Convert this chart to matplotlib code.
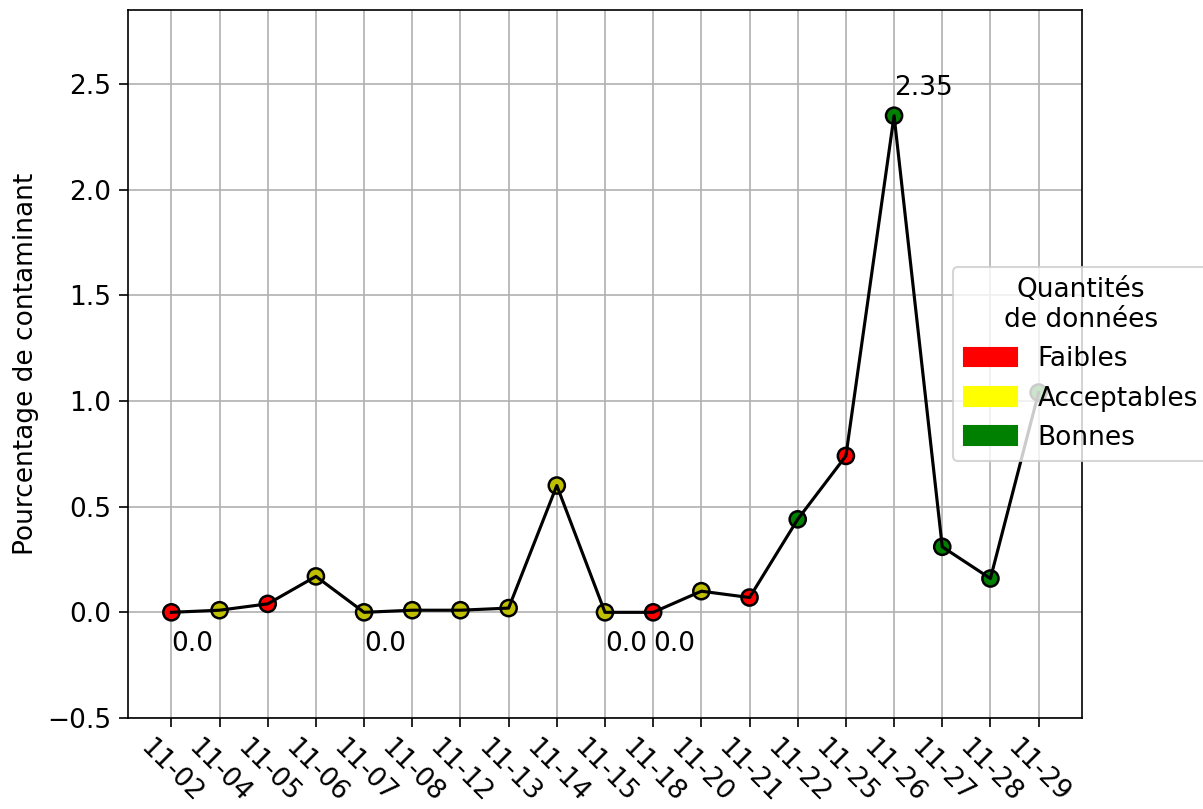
import matplotlib
matplotlib.use('Agg')
import matplotlib.pyplot as plt
import matplotlib.patches as mpatches

# Donnees
dates = ['11-02', '11-04', '11-05', '11-06', '11-07', '11-08', '11-12', '11-13',
         '11-14', '11-15', '11-18', '11-20', '11-21', '11-22', '11-25', '11-26',
         '11-27', '11-28', '11-29']
pourcentages = [0.0, 0.01, 0.04, 0.17, 0.0, 0.01, 0.01, 0.02,
                0.60, 0.0, 0.0, 0.10, 0.07, 0.44, 0.74, 2.35,
                0.31, 0.16, 1.04]
# qualite des donnees: r = faibles, y = acceptables, g = bonnes
qualite = ['r', 'y', 'r', 'y', 'y', 'y', 'y', 'y',
           'y', 'y', 'r', 'y', 'r', 'g', 'r', 'g',
           'g', 'g', 'g']

legende_labels = ['Faibles', 'Acceptables', 'Bonnes']
legende_couleurs = ['red', 'yellow', 'green']

FS = 12.7

fig = plt.figure(figsize=(1203 / 150, 809 / 150), dpi=150)
ax = fig.add_axes([0.1064, 0.1125, 0.793, 0.8751])

x = list(range(len(dates)))
ax.scatter(x, pourcentages, c=qualite, edgecolors='black', s=60, linewidths=1.2, zorder=2)
ax.plot(x, pourcentages, color='black', linewidth=1.5, zorder=3)

ymax = max(pourcentages)
for i, v in enumerate(pourcentages):
    if v == 0:
        ax.text(i, v - 0.185, str(v), fontsize=FS)
    elif v == ymax:
        ax.text(i, v + 0.1, str(v), fontsize=FS)

ax.set_ylim(-0.5, ymax + 0.5)
ax.set_xticks(x)
ax.set_xticklabels(dates, rotation=-45, fontsize=FS)
ax.tick_params(axis='y', labelsize=FS)
ax.tick_params(length=4.5)
ax.set_ylabel('Pourcentage de contaminant', fontsize=FS)
ax.grid(True)

handles = [mpatches.Patch(color=c, label=l) for c, l in zip(legende_couleurs, legende_labels)]
leg = ax.legend(handles=handles, title='Quantités\nde données', loc='center left',
                bbox_to_anchor=(0.865, 0.5), borderaxespad=0, fontsize=FS, title_fontsize=FS)
leg.get_title().set_multialignment('center')

fig.savefig('out.png', dpi=150)
